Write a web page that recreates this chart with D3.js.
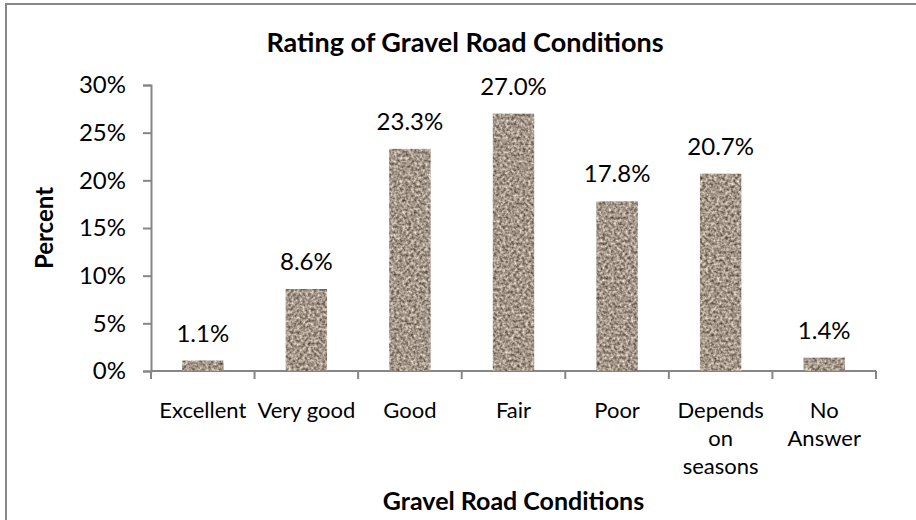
<!DOCTYPE html>
<meta charset="utf-8">
<style>
  body { margin: 0; background: #fff; }
  text { font-family: Lato, "Open Sans", sans-serif; fill: #000; }
  .axis path, .axis line { stroke: #868686; stroke-width: 2; }
</style>
<body>
<div id="chart"></div>
<script src="https://d3js.org/d3.v7.min.js"></script>
<script>

// Data
var categories = ["Excellent", "Very good", "Good", "Fair", "Poor", "Depends on seasons", "No Answer"];
var categoryLines = [["Excellent"], ["Very good"], ["Good"], ["Fair"], ["Poor"], ["Depends", "on", "seasons"], ["No", "Answer"]];
var percents = [1.1, 8.6, 23.3, 27.0, 17.8, 20.7, 1.4];
var yTicks = [0, 5, 10, 15, 20, 25, 30];

var W = 916, H = 520;
var plot = {left: 151, right: 876, top: 85, bottom: 371};

var svg = d3.select("#chart").append("svg")
    .attr("width", W)
    .attr("height", H);

// gravel texture made from noise, clipped to each bar
var defs = svg.append("defs");
var filt = defs.append("filter")
    .attr("id", "gravel")
    .attr("color-interpolation-filters", "sRGB")
    .attr("x", 0).attr("y", 0).attr("width", 1).attr("height", 1);
filt.append("feTurbulence")
    .attr("type", "fractalNoise")
    .attr("baseFrequency", 0.35)
    .attr("numOctaves", 2)
    .attr("seed", 7)
    .attr("result", "noise");
filt.append("feColorMatrix")
    .attr("in", "noise")
    .attr("type", "matrix")
    .attr("values", "0.9 0 0 0 0.19  0.9 0 0 0 0.14  0.9 0 0 0 0.09  0 0 0 0 1")
    .attr("result", "col");
filt.append("feComposite")
    .attr("in", "col")
    .attr("in2", "SourceGraphic")
    .attr("operator", "in");

// chart frame
svg.append("rect")
    .attr("x", 6).attr("y", 4)
    .attr("width", 920).attr("height", 530)
    .attr("fill", "none")
    .attr("stroke", "#888")
    .attr("stroke-width", 2);

var x = d3.scaleBand()
    .domain(categories)
    .range([plot.left, plot.right])
    .paddingInner(0.6)
    .paddingOuter(0.3);

var y = d3.scaleLinear()
    .domain([0, 30])
    .range([plot.bottom, plot.top]);

// y axis
var yAxis = svg.append("g")
    .attr("class", "axis")
    .attr("transform", "translate(" + plot.left + ",0)")
    .call(d3.axisLeft(y).tickValues(yTicks).tickSize(8).tickSizeOuter(8).tickPadding(17)
      .tickFormat(function(d) { return d + "%"; }));
yAxis.selectAll("text").style("font-size", "24px").attr("fill", "#000");

// x axis (ticks at category boundaries)
var bounds = categories.map(function(c) { return x(c) - x.step() * x.paddingInner() / 2; });
bounds[0] = plot.left;
bounds.push(plot.right);

var xAxis = svg.append("g").attr("class", "axis");
xAxis.append("line")
    .attr("x1", plot.left).attr("x2", plot.right)
    .attr("y1", plot.bottom).attr("y2", plot.bottom);
xAxis.selectAll(".tk")
    .data(bounds)
    .enter().append("line")
    .attr("class", "tk")
    .attr("x1", function(d) { return d; }).attr("x2", function(d) { return d; })
    .attr("y1", plot.bottom).attr("y2", plot.bottom + 8);

// bars
svg.selectAll(".bar")
    .data(percents)
    .enter().append("rect")
    .attr("class", "bar")
    .attr("x", function(d, i) { return x(categories[i]); })
    .attr("y", function(d) { return y(d); })
    .attr("width", x.bandwidth())
    .attr("height", function(d) { return plot.bottom - y(d); })
    .attr("fill", "#9c9084")
    .attr("filter", "url(#gravel)");

// value labels
svg.selectAll(".val")
    .data(percents)
    .enter().append("text")
    .attr("class", "val")
    .attr("x", function(d, i) { return x(categories[i]) + x.bandwidth() / 2; })
    .attr("y", function(d) { return y(d) - 19; })
    .attr("text-anchor", "middle")
    .style("font-size", "24px")
    .text(function(d) { return d.toFixed(1) + "%"; });

// category labels
var cat = svg.selectAll(".cat")
    .data(categoryLines)
    .enter().append("text")
    .attr("class", "cat")
    .attr("text-anchor", "middle")
    .style("font-size", "22px")
    .attr("transform", function(d, i) {
      return "translate(" + (x(categories[i]) + x.bandwidth() / 2) + "," + (plot.bottom + 47) + ")";
    });
cat.selectAll("tspan")
    .data(function(d) { return d; })
    .enter().append("tspan")
    .attr("x", 0)
    .attr("y", function(d, i) { return i * 28; })
    .text(function(d) { return d; });

// titles
svg.append("text")
    .attr("x", 465).attr("y", 52)
    .attr("text-anchor", "middle")
    .style("font-size", "27px").style("font-weight", "bold")
    .text("Rating of Gravel Road Conditions");

svg.append("text")
    .attr("x", (plot.left + plot.right) / 2).attr("y", 510)
    .attr("text-anchor", "middle")
    .style("font-size", "25px").style("font-weight", "bold")
    .text("Gravel Road Conditions");

svg.append("text")
    .attr("transform", "translate(53," + ((plot.top + plot.bottom) / 2) + ") rotate(-90)")
    .attr("text-anchor", "middle")
    .style("font-size", "24px").style("font-weight", "bold")
    .text("Percent");

</script>
</body>
